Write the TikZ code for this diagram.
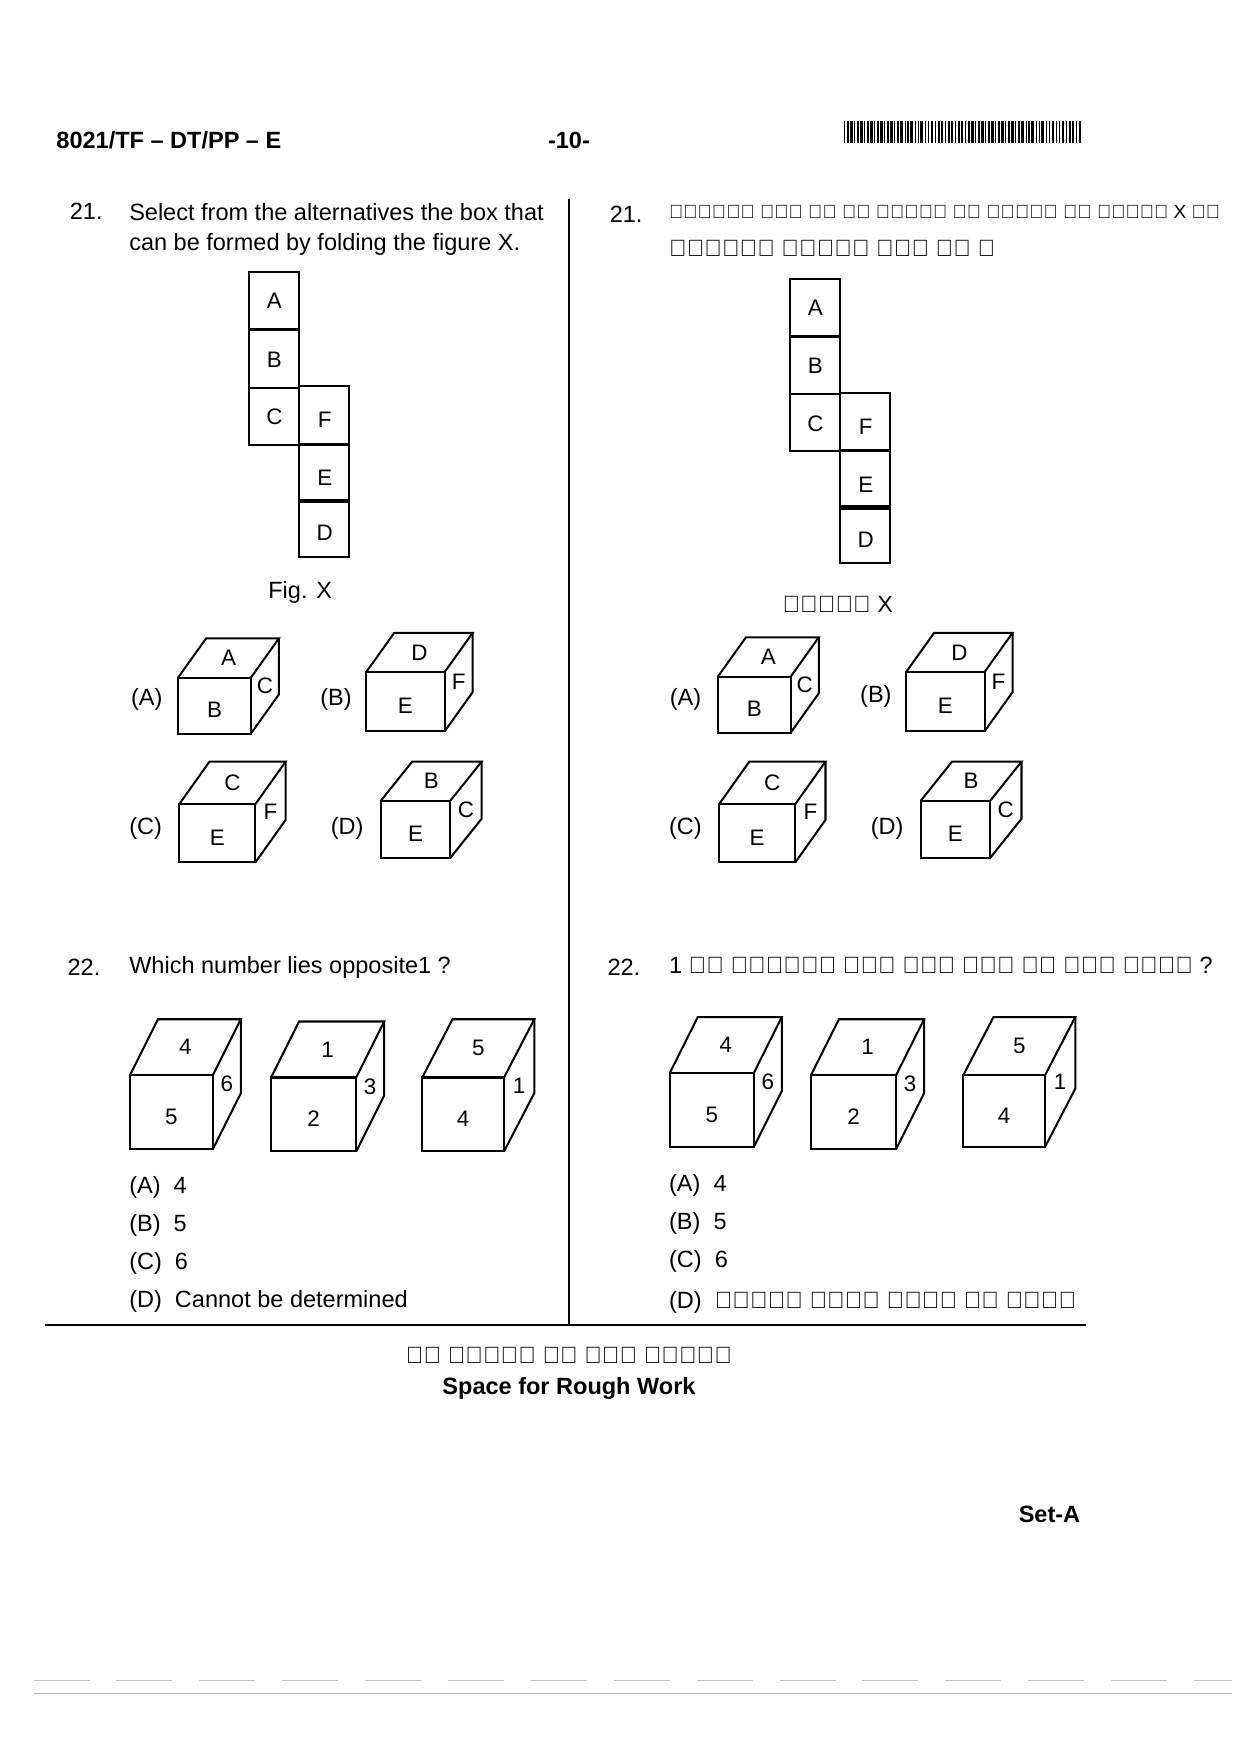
\documentclass[tikz,border=0pt]{standalone}
\usepackage{fontspec}
\setmainfont{Liberation Sans}
\begin{document}
\begin{tikzpicture}[x=0.5pt,y=-0.5pt,
  t/.style={anchor=west,inner sep=0pt,font=\fontsize{10.5}{12}\selectfont},
  c/.style={inner sep=0pt,font=\fontsize{10}{12}\selectfont},
  b/.style={inner sep=0pt,font=\fontsize{10.5}{12}\selectfont\bfseries},
  edge/.style={line width=0.9pt,line join=miter}]
\useasboundingbox (0,0) rectangle (1108,1566);
\fill[white] (0,0) rectangle (1108,1566);
\newcommand\mycube[9]{%
 \draw[edge] (#1,#2) rectangle ({#1+#3},{#2+#4});
 \draw[edge] (#1,#2)--({#1+#5},{#2+#6})--({#1+#3+#5},{#2+#6})--({#1+#3},#2);
 \draw[edge] ({#1+#3+#5},{#2+#6})--({#1+#3+#5},{#2+#4+#6})--({#1+#3},{#2+#4});
 \node[c] at ({#1+#3/2+#5/2},{#2+#6/2}) {#7};
 \node[c] at ({#1+#3/2},{#2+#4/2+4}) {#8};
 \node[c] at ({#1+#3+#5/2},{#2+#4/2+#6/2}) {#9};}
\newcommand\mynet[2]{%
 \begin{scope}[shift={(#1,#2)}]
 \foreach \y/\l in {243/A,295/B,346/C}{\draw[edge] (222,\y) rectangle (267,{\y+51}); \node[c] at (245,{\y+26}) {\l};}
 \foreach \y/\l in {345/F,397/E,446/D}{\draw[edge] (267,\y) rectangle (312,{\y+51}); \node[c] at (290,{\y+30}) {\l};}
 \end{scope}}
% header
\node[b,anchor=west] (hdr) at (50,125) {8021/TF -- DT/PP -- E};
\node[b] (pg) at (508,125) {-10-};
\foreach \i in {0,...,70}{\pgfmathsetmacro\w{mod(\i*7,3)*0.4+0.4}\draw[line width=\w pt] ({754+\i*3},108)--({754+\i*3},128);}
% dividers
\draw[line width=0.8pt] (508,178)--(508,1183);
\draw[line width=0.8pt] (40,1183)--(970,1183);
% Q21 left
\node[t] (q21l) at (62,189) {21.};
\node[t] at (115,189) {Select from the alternatives the box that};
\node[t] at (115,218) {can be formed by folding the figure X.};
\mynet{0}{0}
\node[t,anchor=center] at (268,529) {Fig. X};
\node[t,anchor=center] at (131,624) {(A)};
\node[t,anchor=center] at (300,624) {(B)};
\node[t,anchor=center] at (130,740) {(C)};
\node[t,anchor=center] at (310,740) {(D)};
\mycube{159}{605}{65}{50}{25}{-35}{A}{B}{C}
\mycube{327}{600}{70}{53}{25}{-35}{D}{E}{F}
\mycube{160}{718}{68}{52}{27}{-38}{C}{E}{F}
\mycube{340}{715}{62}{51}{28}{-35}{B}{E}{C}
% Q21 right
\node[t] (q21r) at (544,191) {21.};
\node[t,font=\fontsize{8.5}{10}\selectfont] at (597,189) {विकल्प में से उस बाक्स को चुनिऐ जो चित्र X को};
\node[t] at (597,222) {मोड़कर बनाया गया है ।};
\mynet{483}{6}
\node[t,anchor=center] at (748,540) {चित्र X};
\node[t,anchor=center] at (612,624) {(A)};
\node[t,anchor=center] at (782,622) {(B)};
\node[t,anchor=center] at (612,740) {(C)};
\node[t,anchor=center] at (792,740) {(D)};
\mycube{641}{604}{65}{50}{25}{-35}{A}{B}{C}
\mycube{809}{600}{70}{53}{25}{-35}{D}{E}{F}
\mycube{642}{718}{68}{52}{27}{-38}{C}{E}{F}
\mycube{822}{715}{62}{51}{28}{-35}{B}{E}{C}
% Q22 left
\node[t] (q22l) at (60,864) {22.};
\node[t] at (115,864) {Which number lies opposite1 ?};
\mycube{116}{960}{74}{66}{25}{-50}{4}{5}{6}
\mycube{242}{962}{76}{66}{25}{-50}{1}{2}{3}
\mycube{377}{962}{73}{66}{27}{-52}{5}{4}{1}
\node[t] at (115,1060) {(A)\ \ 4};
\node[t] at (115,1094) {(B)\ \ 5};
\node[t] at (115,1128) {(C)\ \ 6};
\node[t] at (115,1162) {(D)\ \ Cannot be determined};
% Q22 right
\node[t] (q22r) at (542,864) {22.};
\node[t] at (597,862) {1 के विपरीत फलक में कौन सा अंक होगा ?};
\mycube{598}{958}{75}{66}{25}{-50}{4}{5}{6}
\mycube{724}{960}{76}{66}{25}{-50}{1}{2}{3}
\mycube{860}{960}{73}{64}{27}{-52}{5}{4}{1}
\node[t] at (597,1058) {(A)\ \ 4};
\node[t] at (597,1092) {(B)\ \ 5};
\node[t] at (597,1126) {(C)\ \ 6};
\node[t] at (597,1163) {(D)\ \ ज्ञात नहीं किया जा सकता};
% bottom
\node[b] (rh) at (508,1210) {रफ कार्य के लिए स्थान};
\node[b] (rw) at (508,1240) {Space for Rough Work};
\node[b] (set) at (937,1352) {Set-A};
\draw[gray!60,line width=0.8pt] (30,1512)--(1100,1512);
\draw[gray!50,line width=0.5pt,dash pattern=on 25pt off 12pt] (30,1500)--(1100,1500);
\end{tikzpicture}
\end{document}
